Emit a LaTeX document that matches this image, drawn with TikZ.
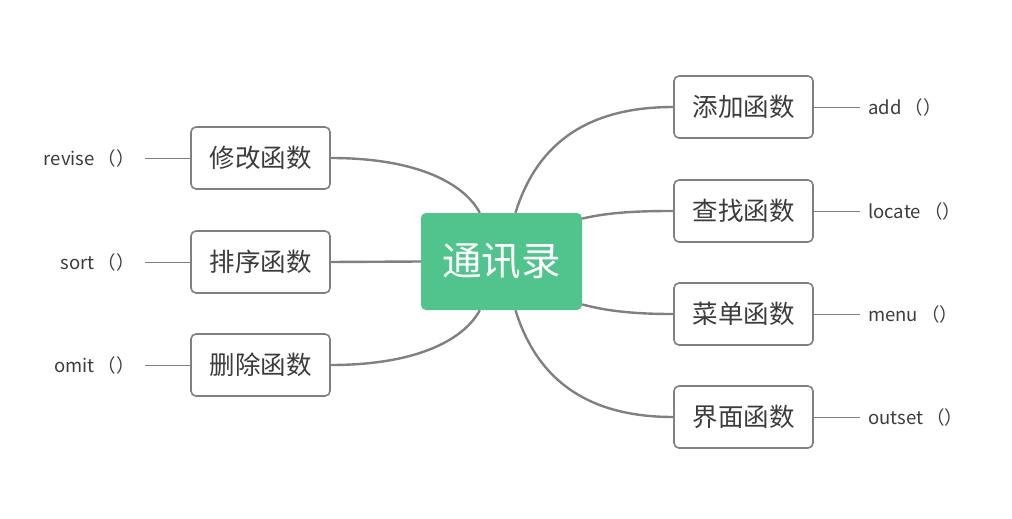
\documentclass[tikz,border=0pt]{standalone}
\usepackage{fontspec}
\setmainfont{Noto Sans CJK SC}
\usetikzlibrary{backgrounds}
\definecolor{topicgreen}{RGB}{80,196,140}
\definecolor{linegray}{RGB}{128,128,128}
\definecolor{textgray}{RGB}{60,60,60}

\begin{document}
\begin{tikzpicture}[x=1pt,y=-1pt,
  root/.style={fill=topicgreen,rounded corners=5pt,minimum width=161pt,minimum height=97pt,
    text=white,font=\fontsize{39.5}{44}\selectfont},
  func/.style={draw=linegray,line width=1.6pt,fill=white,rounded corners=5pt,
    minimum width=139pt,minimum height=62pt,text=textgray,font=\fontsize{25.5}{30}\selectfont},
  leaf/.style={text=textgray,font=\fontsize{18.5}{22}\selectfont,inner sep=0pt},
  branch/.style={linegray,line width=2.4pt},
  twig/.style={linegray,line width=1pt}]
  \useasboundingbox (0,0) rectangle (1012,519);
  % central topic
  \node[root] (root) at (501.5,261.5) {通讯录};
  % right functions
  \node[func] (add) at (743.5,107) {添加函数};
  \node[func] (find) at (743.5,211) {查找函数};
  \node[func] (menu) at (743.5,314) {菜单函数};
  \node[func] (face) at (743.5,417) {界面函数};
  % left functions
  \node[func] (rev) at (260.5,158) {修改函数};
  \node[func] (sort) at (260.5,262) {排序函数};
  \node[func] (del) at (260.5,365) {删除函数};
  % leaves
  \node[leaf,anchor=west] (addf) at (868,107) {add\,（）};
  \node[leaf,anchor=west] (findf) at (868,211) {locate\,（）};
  \node[leaf,anchor=west] (menuf) at (868,314) {menu\,（）};
  \node[leaf,anchor=west] (facef) at (868,417) {outset\,（）};
  \node[leaf,anchor=east] (revf) at (135,158) {revise\,（）};
  \node[leaf,anchor=east] (sortf) at (135,262) {sort\,（）};
  \node[leaf,anchor=east] (delf) at (135,365) {omit\,（）};
  \begin{pgfonlayer}{background}
    % branches
    \draw[branch] (root.74) .. controls (535,150) and (580,107) .. (add.west);
    \draw[branch] (root.28) .. controls (610,212) and (640,211) .. (find.west);
    \draw[branch] (root.332) .. controls (610,312) and (640,314) .. (menu.west);
    \draw[branch] (root.286) .. controls (535,373) and (580,417) .. (face.west);
    \draw[branch] (root.114) .. controls (465,185) and (420,158) .. (rev.east);
    \draw[branch] (root.west) -- (sort.east);
    \draw[branch] (root.246) .. controls (465,338) and (420,365) .. (del.east);
    % twigs
    \foreach \f in {add,find,menu,face}
      \draw[twig,shorten >=8pt] (\f.east) -- (\f f.west);
    \foreach \f in {rev,sort,del}
      \draw[twig,shorten >=10pt] (\f.west) -- (\f f.east);
  \end{pgfonlayer}
\end{tikzpicture}
\end{document}
